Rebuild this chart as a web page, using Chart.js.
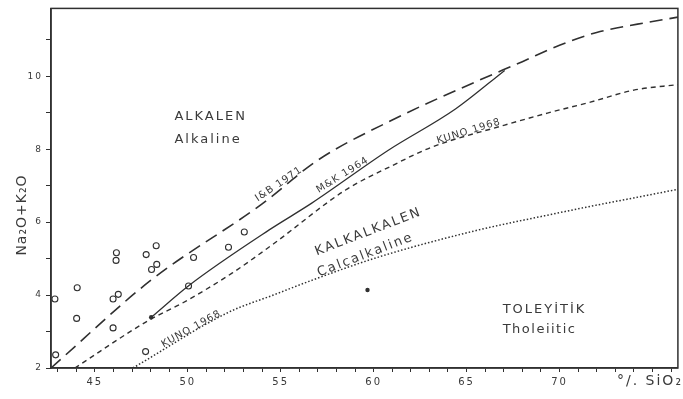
<!DOCTYPE html>
<html>
<head>
<meta charset="utf-8">
<script src="https://cdn.jsdelivr.net/npm/chart.js@4.4.0/dist/chart.umd.min.js"></script>
<style>
  html, body { margin: 0; background: #fff; }
  #wrap { width: 683px; height: 399px; }
</style>
</head>
<body>
<div id="wrap"><canvas id="chart" width="683" height="399"></canvas></div>
<script>
"use strict";

// boundary curves (SiO2 %, Na2O+K2O %)
const ibX = [42.64, 48, 54, 57, 61, 65.5, 68, 70, 72, 75, 76.37];
const ibY = [2.0, 4.4, 6.5, 7.7, 8.8, 9.85, 10.4, 10.85, 11.2, 11.5, 11.62];

const mkX = [48.03, 50.08, 54.36, 56.67, 60.79, 64.4, 67.05];
const mkY = [3.39, 4.27, 5.78, 6.52, 7.97, 9.1, 10.16];

const kunoAX = [43.92, 47.94, 49.71, 52.38, 54.6, 58.49, 61, 63.1, 67.05, 69.35, 71.66, 74, 76.37];
const kunoAY = [2.0, 3.32, 3.78, 4.6, 5.4, 6.88, 7.55, 8.05, 8.66, 8.99, 9.29, 9.62, 9.77];

const kunoBX = [47.05, 52.2, 54.6, 56.7, 60.25, 65.6, 69.35, 72.03, 74.17, 76.37];
const kunoBY = [2.0, 3.53, 4.0, 4.41, 5.04, 5.78, 6.19, 6.47, 6.68, 6.9];

// samples
const openX = [42.85, 42.89, 44.05, 44.02, 46.16, 46.14, 45.98, 46.26, 45.98, 47.76, 48.3, 48.05, 48.33, 47.73, 50.31, 50.04, 52.19, 53.04];
const openY = [3.89, 2.36, 4.2, 3.36, 5.16, 4.95, 3.89, 4.02, 3.1, 5.11, 5.35, 4.7, 4.84, 2.45, 5.03, 4.25, 5.31, 5.73];
const filledX = [48.03, 59.67];
const filledY = [3.39, 4.14];

// axes
const xTicks = [43, 44, 45, 46, 47, 48, 49, 50, 51, 52, 53, 54, 55, 56, 57, 58, 59, 60, 61, 62, 63, 64, 65, 66, 67, 68, 69, 70, 71, 72, 73, 74, 75, 76];
const xLabelled = [45, 50, 55, 60, 65, 70];
const yTicks = [2, 3, 4, 5, 6, 7, 8, 9, 10, 11];
const yLabelled = [2, 4, 6, 8, 10];

const ink = "#303030";
const textInk = "#3a3a3a";

const toPoints = (xs, ys) => xs.map((x, i) => ({ x, y: ys[i] }));

const curve = (label, xs, ys, dash, width) => ({
  label,
  data: toPoints(xs, ys),
  showLine: true,
  borderColor: ink,
  borderWidth: width,
  borderDash: dash,
  pointRadius: 0,
  cubicInterpolationMode: "monotone",
  fill: false,
});

// texts placed in data coordinates
const notes = [
  { text: "ALKALEN", x: 49.28, y: 8.88, angle: 0, size: 13, spacing: 2, align: "left" },
  { text: "Alkaline", x: 49.28, y: 8.25, angle: 0, size: 13, spacing: 2, align: "left" },
  { text: "KALKALKALEN", x: 59.72, y: 5.73, angle: -21, size: 13, spacing: 2, align: "center" },
  { text: "Calcalkaline", x: 59.56, y: 5.1, angle: -21, size: 13, spacing: 2, align: "center" },
  { text: "TOLEYİTİK", x: 66.94, y: 3.59, angle: 0, size: 13, spacing: 2, align: "left" },
  { text: "Tholeiitic", x: 66.94, y: 3.04, angle: 0, size: 13, spacing: 1.5, align: "left" },
  { text: "I&B 1971", x: 54.9, y: 7.04, angle: -34, size: 10, spacing: 1, align: "center" },
  { text: "M&K 1964", x: 58.33, y: 7.29, angle: -32, size: 10, spacing: 1, align: "center" },
  { text: "KUNO 1968", x: 65.12, y: 8.49, angle: -17, size: 10, spacing: 1, align: "center" },
  { text: "KUNO 1968", x: 50.19, y: 3.07, angle: -29, size: 10, spacing: 1, align: "center" },
];

const drawText = (ctx, t, px, py) => {
  ctx.save();
  ctx.translate(px, py);
  ctx.rotate((t.angle * Math.PI) / 180);
  ctx.letterSpacing = t.spacing + "px";
  ctx.font = t.size + "px 'DejaVu Sans'";
  ctx.fillStyle = textInk;
  ctx.textAlign = t.align;
  ctx.textBaseline = "middle";
  ctx.fillText(t.text, 0, 0);
  ctx.restore();
};

const decorations = {
  id: "decorations",
  beforeDraw(chart) {
    chart.ctx.letterSpacing = "2px";
  },
  afterDraw(chart) {
    const { ctx, chartArea, scales } = chart;
    ctx.save();
    ctx.strokeStyle = ink;
    ctx.lineWidth = 1.5;
    ctx.strokeRect(chartArea.left, chartArea.top, chartArea.right - chartArea.left, chartArea.bottom - chartArea.top);

    notes.forEach((t) => drawText(ctx, t, scales.x.getPixelForValue(t.x), scales.y.getPixelForValue(t.y)));

    // axis titles
    ctx.fillStyle = textInk;
    ctx.letterSpacing = "1px";
    ctx.font = "14px 'DejaVu Sans'";
    ctx.save();
    ctx.translate(22, 215);
    ctx.rotate(-Math.PI / 2);
    ctx.textAlign = "center";
    ctx.textBaseline = "middle";
    ctx.fillText("Na₂O+K₂O", 0, 0);
    ctx.restore();

    ctx.letterSpacing = "2px";
    ctx.textAlign = "right";
    ctx.textBaseline = "middle";
    ctx.fillText("°/. SiO₂", 683, chartArea.bottom + 13);
    ctx.restore();
  },
};

new Chart(document.getElementById("chart"), {
  type: "scatter",
  data: {
    datasets: [
      curve("I&B 1971", ibX, ibY, [13, 7], 1.6),
      curve("M&K 1964", mkX, mkY, [], 1.3),
      curve("KUNO 1968", kunoAX, kunoAY, [5, 4], 1.4),
      curve("KUNO 1968 (2)", kunoBX, kunoBY, [1.5, 2], 1.5),
      {
        label: "samples",
        data: toPoints(openX, openY),
        pointRadius: 3,
        pointBorderWidth: 1.1,
        pointBorderColor: ink,
        pointBackgroundColor: "#fff",
      },
      {
        label: "samples (filled)",
        data: toPoints(filledX, filledY),
        pointRadius: 2.2,
        pointBorderWidth: 0,
        pointBackgroundColor: ink,
      },
    ],
  },
  options: {
    responsive: false,
    animation: false,
    devicePixelRatio: 1,
    layout: { padding: { top: 8, right: 2, left: 0, bottom: 0 } },
    plugins: { legend: { display: false }, tooltip: { enabled: false } },
    scales: {
      x: {
        type: "linear",
        min: 42.64,
        max: 76.37,
        afterBuildTicks: (scale) => { scale.ticks = xTicks.map((v) => ({ value: v })); },
        afterFit: (scale) => { scale.height = 31; },
        grid: { drawOnChartArea: false, drawTicks: true, tickLength: 4, color: ink, lineWidth: 1 },
        border: { display: true, color: ink, width: 1.5 },
        ticks: {
          autoSkip: false,
          maxRotation: 0,
          padding: 4,
          color: textInk,
          font: { family: "DejaVu Sans", size: 10 },
          callback: (v) => (xLabelled.includes(v) ? String(v) : ""),
        },
      },
      y: {
        type: "linear",
        min: 2,
        max: 11.86,
        afterBuildTicks: (scale) => { scale.ticks = yTicks.map((v) => ({ value: v })); },
        afterFit: (scale) => { scale.width = 51; },
        grid: { drawOnChartArea: false, drawTicks: true, tickLength: 5, color: ink, lineWidth: 1 },
        border: { display: true, color: ink, width: 1.5 },
        ticks: {
          autoSkip: false,
          padding: 3,
          color: textInk,
          font: { family: "DejaVu Sans", size: 9 },
          callback: (v) => (yLabelled.includes(v) ? String(v) : ""),
        },
      },
    },
  },
  plugins: [decorations],
});
</script>
</body>
</html>
